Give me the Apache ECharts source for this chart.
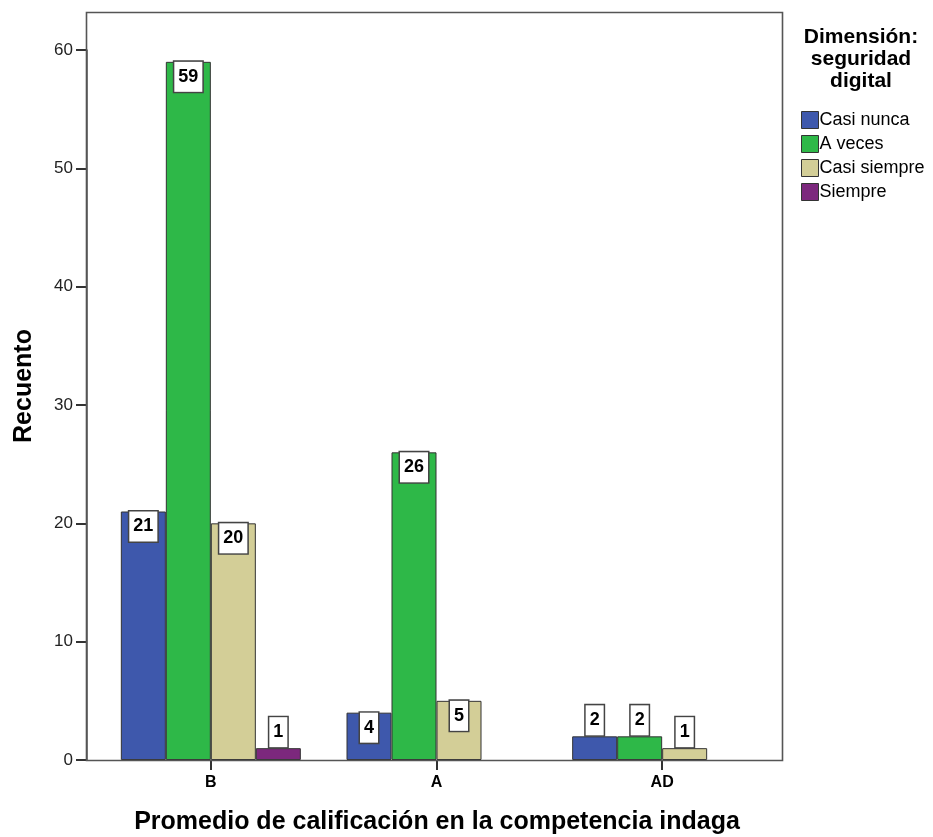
<!DOCTYPE html>
<html>
<head>
<meta charset="utf-8">
<script src="https://cdn.jsdelivr.net/npm/echarts@6/dist/echarts.min.js"></script>
<style>html,body{margin:0;padding:0;background:#fff;}#c{width:933px;height:837px;}</style>
</head>
<body>
<div id="c"></div>
<script>
var categories = ['B', 'A', 'AD'];
var seriesNames = ['Casi nunca', 'A veces', 'Casi siempre', 'Siempre'];
var casiNunca = [21, 4, 2];
var aVeces = [59, 26, 2];
var casiSiempre = [20, 5, 1];
var siempre = [1, null, null];
var yTicks = [0, 10, 20, 30, 40, 50, 60];
var colors = ['#3E58AC', '#2EB848', '#D3CE97', '#7C287D'];

var FONT = '"Liberation Sans", Arial, sans-serif';
var chart = echarts.init(document.getElementById('c'), null, {renderer: 'canvas'});

function mkSeries(name, vals, color) {
  return {
    name: name,
    type: 'bar',
    barWidth: 45,
    barGap: '0%',
    itemStyle: {color: color, borderColor: '#333', borderWidth: 1},
    data: vals.map(function (v) {
      if (v === null) return '-';
      var inside = v * (710 / 60) >= 30;
      return {
        value: v,
        label: {position: inside ? 'insideTop' : 'top', distance: inside ? 0 : 1}
      };
    }),
    label: {
      show: true,
      fontFamily: FONT,
      fontSize: 18,
      fontWeight: 'bold',
      color: '#000',
      lineHeight: 18,
      backgroundColor: '#fff',
      borderColor: '#444',
      borderWidth: 1.5,
      padding: [6, 4, 6, 4]
    }
  };
}

var option = {
  animation: false,
  backgroundColor: '#fff',
  textStyle: {fontFamily: FONT},
  grid: {left: 98, right: 158, top: 50, bottom: 77},
  xAxis: {
    type: 'category',
    data: categories,
    axisLine: {show: false},
    axisTick: {show: true, alignWithLabel: true, length: 10, lineStyle: {color: '#333', width: 2}},
    axisLabel: {fontFamily: FONT, fontSize: 16, fontWeight: 'bold', color: '#000', margin: 15}
  },
  yAxis: {
    type: 'value',
    min: yTicks[0],
    max: yTicks[yTicks.length - 1],
    interval: 10,
    offset: 11,
    splitLine: {show: false},
    axisLine: {show: true, lineStyle: {color: '#555', width: 1.5}},
    axisTick: {show: true, length: 11, lineStyle: {color: '#333', width: 2}},
    axisLabel: {fontFamily: FONT, fontSize: 17, color: '#222', margin: 14}
  },
  legend: {
    orient: 'vertical',
    left: 796,
    top: 106,
    itemWidth: 17,
    itemHeight: 17,
    itemGap: 6,
    icon: 'rect',
    itemStyle: {borderColor: '#333', borderWidth: 1},
    textStyle: {fontFamily: FONT, fontSize: 18, color: '#000', padding: [0, 0, 0, -4]},
    data: seriesNames
  },
  graphic: [
    {
      type: 'rect', z: 100, silent: true,
      shape: {x: 86.5, y: 12.5, width: 696, height: 748},
      style: {fill: 'none', stroke: '#555', lineWidth: 1.6}
    },
    {
      type: 'text', z: 100, silent: true,
      x: 861, y: 26,
      style: {
        text: 'Dimensión:\nseguridad\ndigital',
        x: 0, y: 0,
        align: 'center', verticalAlign: 'top',
        font: 'bold 21px ' + FONT, lineHeight: 22, fill: '#000'
      }
    },
    {
      type: 'text', z: 100, silent: true,
      style: {
        text: 'Recuento', x: 0, y: 0,
        align: 'center', verticalAlign: 'middle',
        font: 'bold 25px ' + FONT, fill: '#000'
      },
      x: 24, y: 386, rotation: Math.PI / 2
    },
    {
      type: 'text', z: 100, silent: true,
      x: 437, y: 822,
      style: {
        text: 'Promedio de calificación en la competencia indaga', x: 0, y: 0,
        align: 'center', verticalAlign: 'middle',
        font: 'bold 25px ' + FONT, fill: '#000'
      }
    }
  ],
  series: [
    mkSeries(seriesNames[0], casiNunca, colors[0]),
    mkSeries(seriesNames[1], aVeces, colors[1]),
    mkSeries(seriesNames[2], casiSiempre, colors[2]),
    mkSeries(seriesNames[3], siempre, colors[3])
  ]
};
chart.setOption(option);
</script>
</body>
</html>
